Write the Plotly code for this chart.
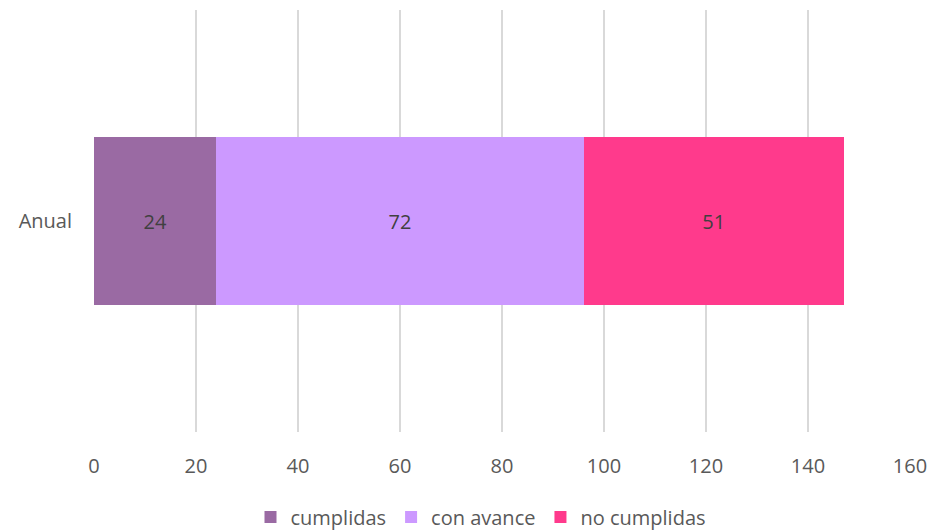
import plotly.graph_objects as go

categories = ["Anual"]
series_names = ["cumplidas", "con avance", "no cumplidas"]
cumplidas = [24]
con_avance = [72]
no_cumplidas = [51]
colors = ["#9A6AA3", "#CC99FF", "#FF3A8C"]
x_ticks = [0, 20, 40, 60, 80, 100, 120, 140, 160]

fig = go.Figure()
for name, vals, col in zip(series_names, [cumplidas, con_avance, no_cumplidas], colors):
    fig.add_trace(go.Bar(
        y=categories, x=vals, name=name, orientation="h",
        marker=dict(color=col, line=dict(width=0)),
        text=[str(v) for v in vals], textposition="inside", insidetextanchor="middle",
        textfont=dict(family="Open Sans", size=20, color="#404040"),
        width=0.4,
    ))

fig.update_layout(
    barmode="stack",
    width=946, height=531,
    margin=dict(l=86, r=44, t=2, b=107),
    paper_bgcolor="white", plot_bgcolor="white",
    font=dict(family="Open Sans", size=20, color="#595959"),
    showlegend=True,
    legend=dict(orientation="h", x=0.5, xanchor="center", xref="container",
                y=(531 - 509) / 531, yanchor="middle", yref="container",
                font=dict(size=20, color="#595959"), traceorder="normal",
                itemwidth=30),
    uniformtext=dict(mode=False),
)
fig.update_xaxes(range=[0, 160], tickvals=x_ticks, showgrid=True, gridcolor="#D9D9D9",
                 gridwidth=1.5, zeroline=False, showline=False, automargin=False,
                 ticks="outside", ticklen=16, tickcolor="rgba(0,0,0,0)",
                 tickfont=dict(size=20, color="#595959"))
fig.update_yaxes(showgrid=False, zeroline=False, showline=False, automargin=False,
                 ticks="outside", ticklen=17, tickcolor="rgba(0,0,0,0)",
                 tickfont=dict(size=20, color="#595959"))

fig.write_html("out.html")
